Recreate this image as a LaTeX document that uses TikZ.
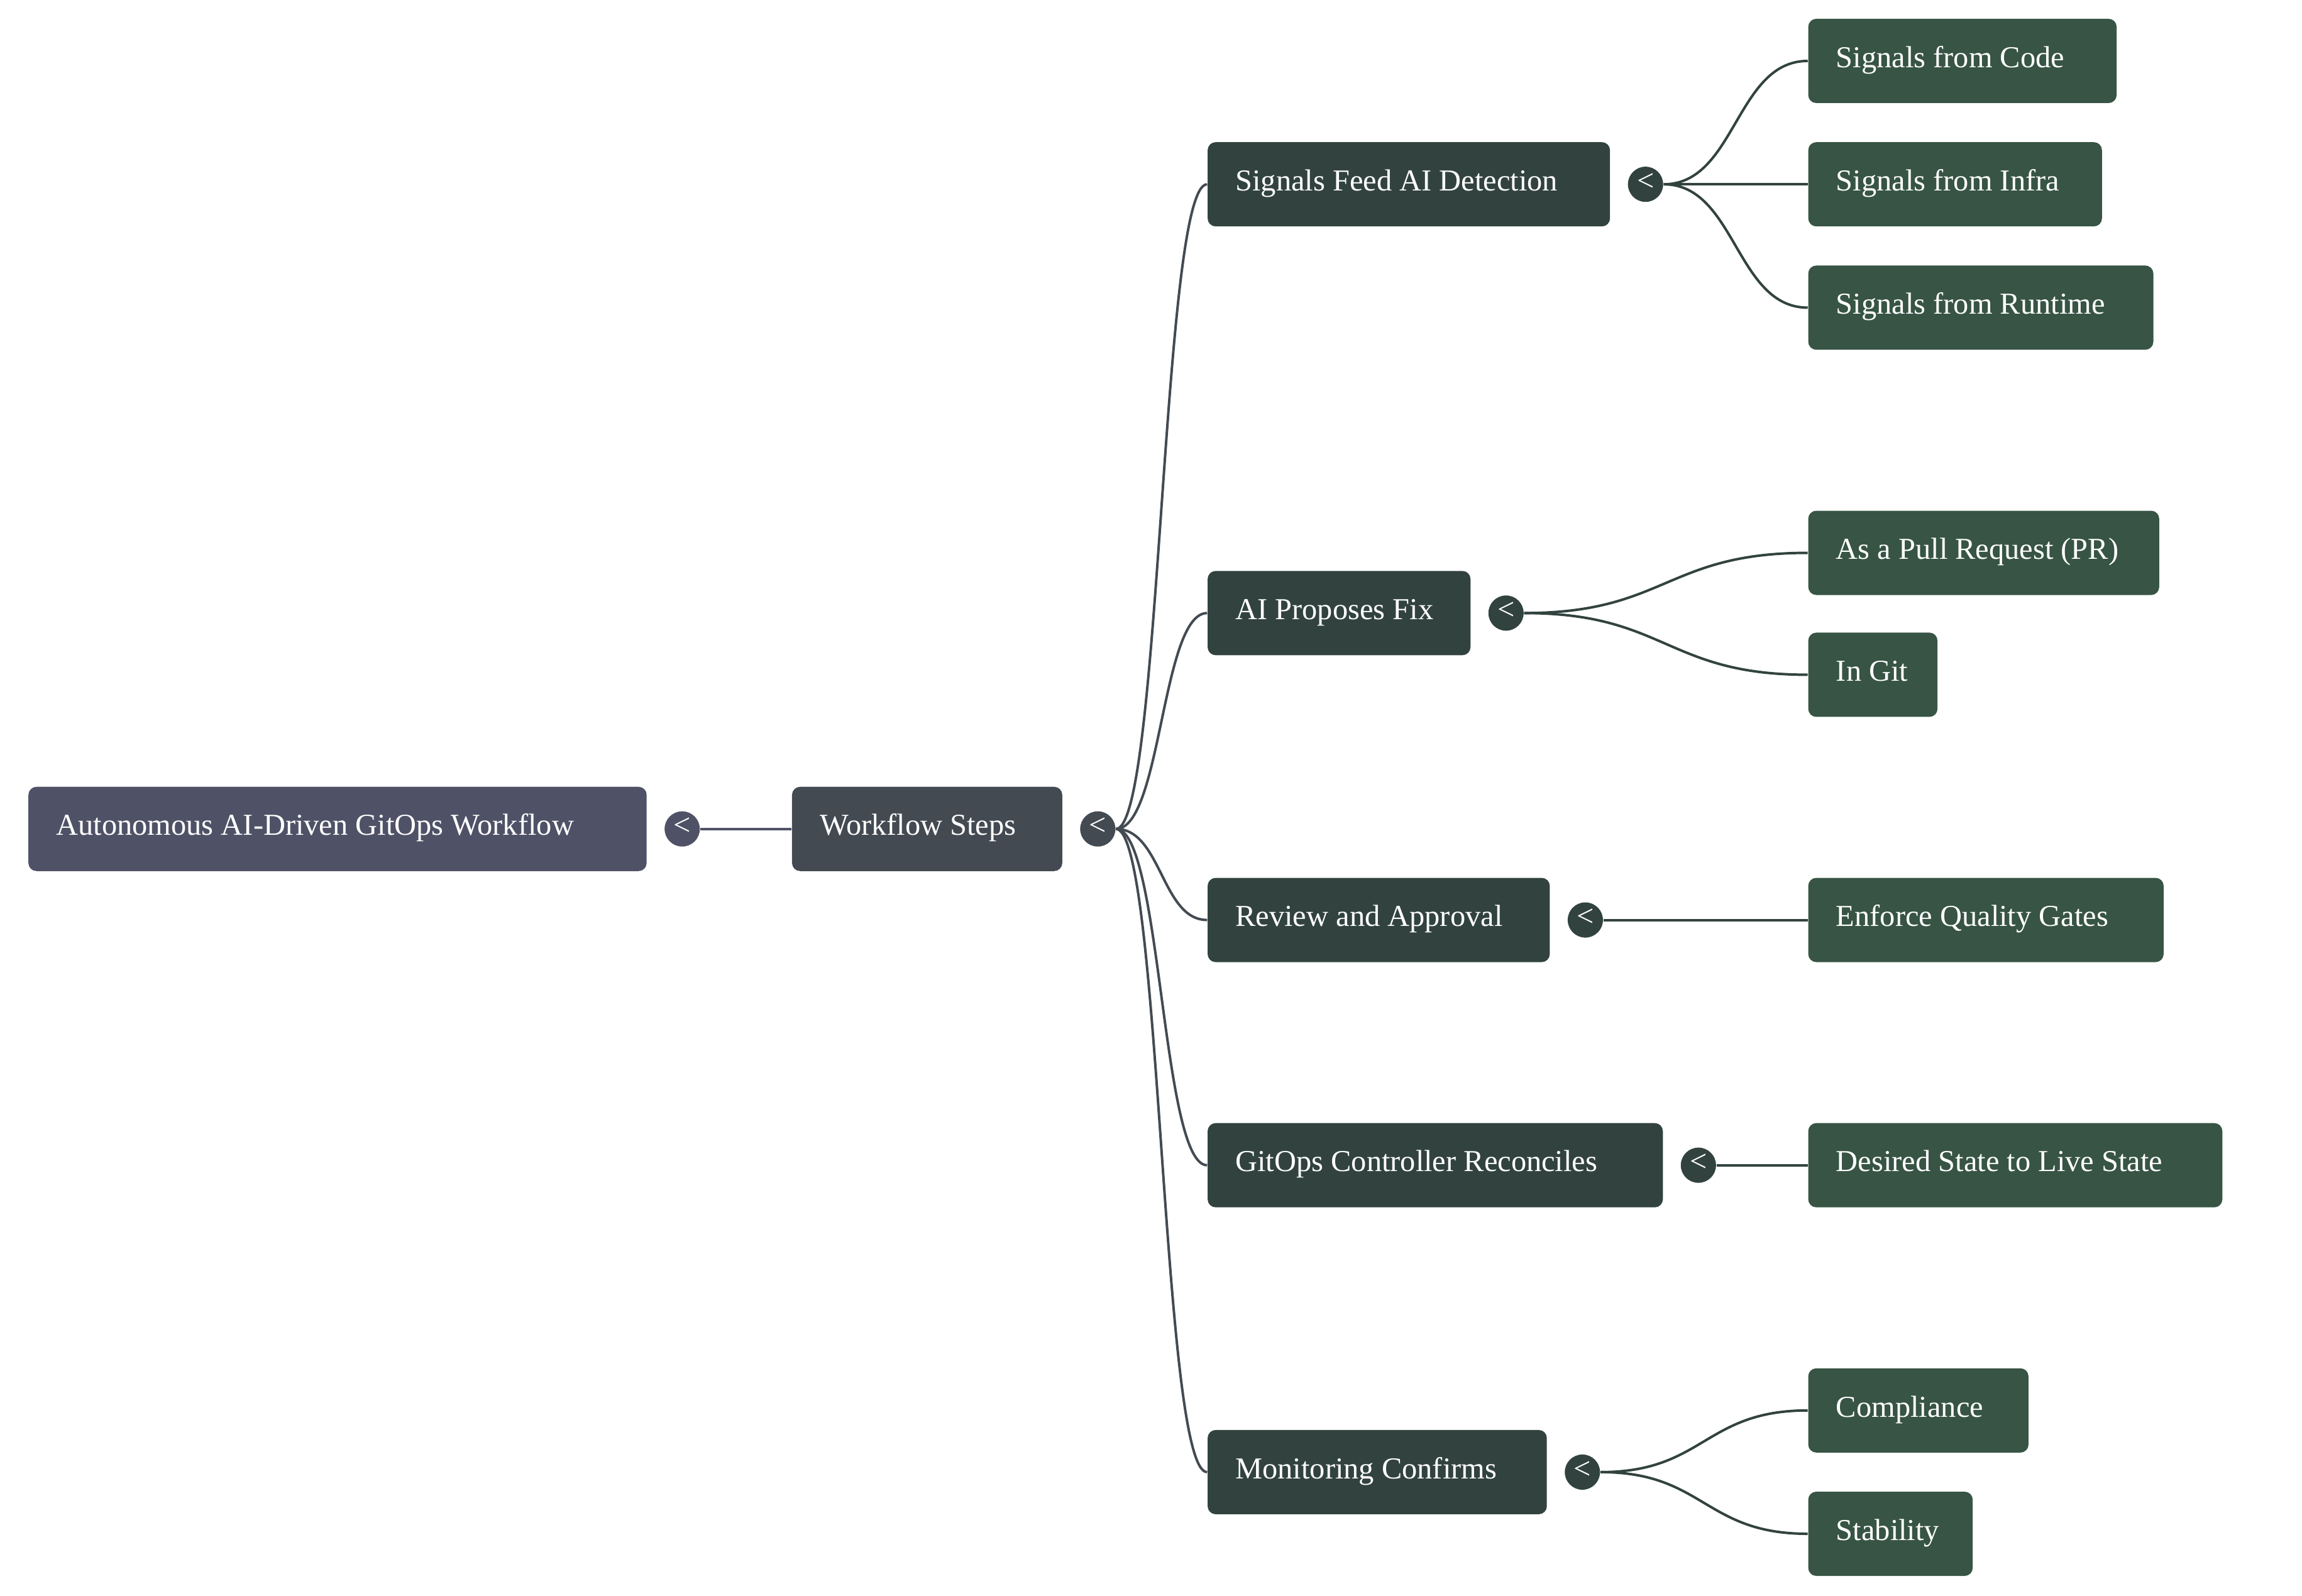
\documentclass[tikz,border=0pt]{standalone}
\usepackage{fontspec}
\setmainfont{Liberation Serif}
\usetikzlibrary{positioning,calc}
\definecolor{rootcol}{HTML}{4F5267}
\definecolor{stepcol}{HTML}{434A52}
\definecolor{phasecol}{HTML}{32433F}
\definecolor{leafcol}{HTML}{375444}
\tikzset{
  boxw/.code={\pgfmathsetmacro\boxwd{#1*0.02}\pgfmathsetmacro\textwd{(#1-38)*0.02}%
    \tikzset{minimum width=\boxwd cm}},
  topic/.style={rounded corners=0.11cm, text=white, inner xsep=0.38cm, inner ysep=0pt,
    minimum height=1.148cm, anchor=west, text height=0.75em, text depth=0.25em,
    font=\fontsize{11.8}{14}\selectfont,
    execute at begin node={\hbox to \textwd cm\bgroup},
    execute at end node={\hfil\egroup}},
  knob/.style={circle, inner sep=0pt, minimum size=0.48cm, text=white,
    text height=0.5em, text depth=0pt, font=\fontsize{11.8}{14}\selectfont, right=0.23cm of #1},
  link/.style={line width=0.034cm,
    to path={let \p1=(\tikztostart), \p2=(\tikztotarget) in
      .. controls (0.5*\x1+0.5*\x2,\y1) and (0.5*\x1+0.5*\x2,\y2) .. (\tikztotarget)}}
}
\begin{document}
\begin{tikzpicture}[x=0.02cm, y=-0.02cm]
   \useasboundingbox (0,0) rectangle (1567.6,1086.5);
   % root and steps
   \node (root) [topic, boxw=421, fill=rootcol] at (19,564.5) {Autonomous AI-Driven GitOps Workflow};
   \node (rootk) [knob=root, fill=rootcol] {<};
   \node (steps) [topic, boxw=184, fill=stepcol] at (539,564.5) {Workflow Steps};
   \node (stepsk) [knob=steps, fill=stepcol] {<};
   % phases
   \node (signals) [topic, boxw=274, fill=phasecol] at (822,125.5) {Signals Feed AI Detection};
   \node (propose) [topic, boxw=179, fill=phasecol] at (822,417.5) {AI Proposes Fix};
   \node (review)  [topic, boxw=233, fill=phasecol] at (822,626.5) {Review and Approval};
   \node (gitops)  [topic, boxw=310, fill=phasecol] at (822,793.5) {GitOps Controller Reconciles};
   \node (monitor) [topic, boxw=231, fill=phasecol] at (822,1002.5) {Monitoring Confirms};
   \node (signalsk) [knob=signals, fill=phasecol] {<};
   \node (proposek) [knob=propose, fill=phasecol] {<};
   \node (reviewk)  [knob=review,  fill=phasecol] {<};
   \node (gitopsk)  [knob=gitops,  fill=phasecol] {<};
   \node (monitork) [knob=monitor, fill=phasecol] {<};
   % leaves
   \node (code)    [topic, boxw=210, fill=leafcol] at (1231,41.5)  {Signals from Code};
   \node (infra)   [topic, boxw=200, fill=leafcol] at (1231,125.5) {Signals from Infra};
   \node (runtime) [topic, boxw=235, fill=leafcol] at (1231,209.5) {Signals from Runtime};
   \node (pr)      [topic, boxw=239, fill=leafcol] at (1231,376.5) {As a Pull Request (PR)};
   \node (git)     [topic, boxw=88,  fill=leafcol] at (1231,459.5) {In Git};
   \node (gates)   [topic, boxw=242, fill=leafcol] at (1231,626.5) {Enforce Quality Gates};
   \node (live)    [topic, boxw=282, fill=leafcol] at (1231,793.5) {Desired State to Live State};
   \node (comply)  [topic, boxw=150, fill=leafcol] at (1231,960.5) {Compliance};
   \node (stable)  [topic, boxw=112, fill=leafcol] at (1231,1044.5) {Stability};
   % links
   \path[link, rootcol] (rootk.east) edge (steps.west);
   \path[link, stepcol] (stepsk.east) edge (signals.west) edge (propose.west)
         edge (review.west) edge (gitops.west) edge (monitor.west);
   \path[link, phasecol]
     (signalsk.east) edge (code.west) edge (infra.west) edge (runtime.west)
     (proposek.east) edge (pr.west) edge (git.west)
     (reviewk.east)  edge (gates.west)
     (gitopsk.east)  edge (live.west)
     (monitork.east) edge (comply.west) edge (stable.west);
  \end{tikzpicture}
\end{document}
